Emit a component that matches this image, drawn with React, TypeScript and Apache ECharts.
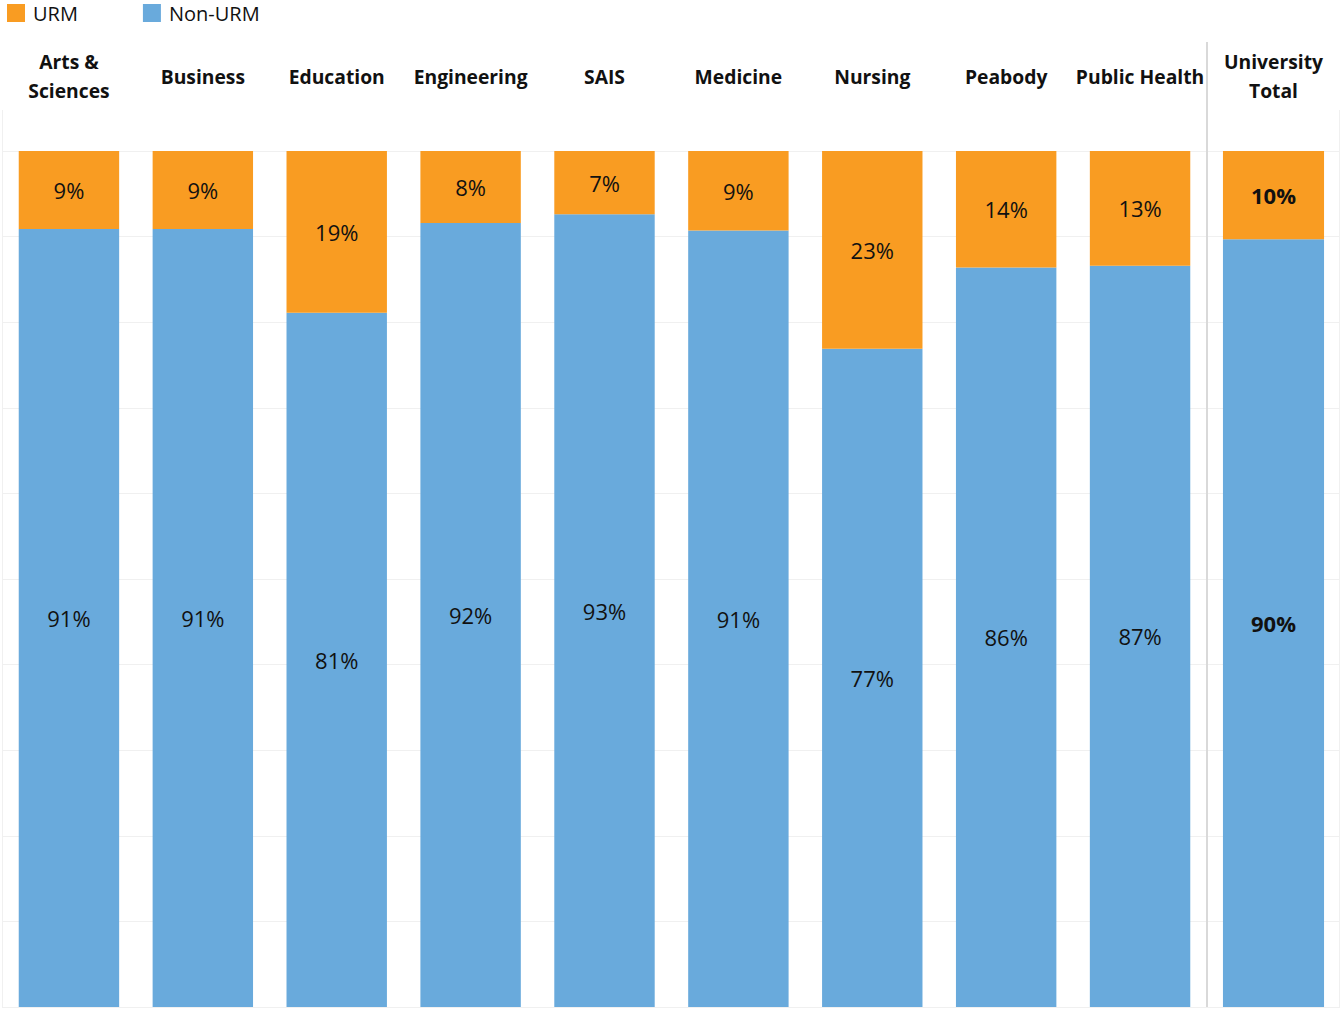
import React, { useEffect, useRef } from "react";
import * as echarts from "echarts";

const schools = ["Arts &\nSciences", "Business", "Education", "Engineering", "SAIS", "Medicine", "Nursing", "Peabody", "Public Health"];
const urm = [9.1, 9.1, 18.9, 8.4, 7.4, 9.3, 23.1, 13.6, 13.4];
const nonUrm = [90.9, 90.9, 81.1, 91.6, 92.6, 90.7, 76.9, 86.4, 86.6];

const totalCategory = ["University\nTotal"];
const totalUrm = [10.3];
const totalNonUrm = [89.7];

const ORANGE = "#f99c22";
const BLUE = "#69aadc";
const FONT = "Open Sans";

export default function App() {
  const ref = useRef<HTMLDivElement>(null);
  useEffect(() => {
    if (!ref.current) return;
    const chart = echarts.init(ref.current, null, { renderer: "svg" });
    const pct = (p: any) => Math.round(p.value) + "%";
    const xAxisBase = {
      type: "category",
      position: "top",
      axisLine: { show: false },
      axisTick: { show: false },
      axisLabel: {
        color: "#111",
        fontFamily: FONT,
        fontWeight: "bold",
        fontSize: 19.3,
        lineHeight: 29,
        verticalAlign: "middle",
        margin: 75,
        interval: 0,
      },
    };
    const yAxisBase = {
      type: "value",
      min: 0,
      max: 100,
      interval: 10,
      axisLabel: { show: false },
      axisLine: { show: false },
      axisTick: { show: false },
      splitLine: { show: true, lineStyle: { color: "#f0f0f0", width: 1 } },
    };
    const labelBase = (bold: boolean) => ({
      show: true,
      position: "inside",
      formatter: pct,
      color: "#111",
      fontFamily: FONT,
      fontSize: 22,
      fontWeight: bold ? "bold" : "normal",
    });
    chart.setOption({
      animation: false,
      backgroundColor: "#fff",
      legend: {
        left: 2,
        top: -2,
        itemWidth: 18,
        itemHeight: 18,
        itemGap: 65,
        icon: "rect",
        data: ["URM", "Non-URM"],
        textStyle: { fontFamily: FONT, fontSize: 20, color: "#111", padding: [0, 0, 0, 3] },
        selectedMode: false,
      },
      grid: [
        { left: 2, top: 151, width: 1205, bottom: 2 },
        { left: 1207, top: 151, width: 133, bottom: 2 },
      ],
      xAxis: [
        { ...xAxisBase, gridIndex: 0, data: schools },
        { ...xAxisBase, gridIndex: 1, data: totalCategory },
      ],
      yAxis: [
        { ...yAxisBase, gridIndex: 0 },
        { ...yAxisBase, gridIndex: 1 },
      ],
      series: [
        {
          name: "Non-URM", type: "bar", stack: "a", xAxisIndex: 0, yAxisIndex: 0,
          data: nonUrm, barWidth: "75%", itemStyle: { color: BLUE }, label: labelBase(false),
        },
        {
          name: "URM", type: "bar", stack: "a", xAxisIndex: 0, yAxisIndex: 0,
          data: urm, barWidth: "75%", itemStyle: { color: ORANGE }, label: labelBase(false),
        },
        {
          name: "Non-URM", type: "bar", stack: "b", xAxisIndex: 1, yAxisIndex: 1,
          data: totalNonUrm, barWidth: "76%", itemStyle: { color: BLUE }, label: labelBase(true),
        },
        {
          name: "URM", type: "bar", stack: "b", xAxisIndex: 1, yAxisIndex: 1,
          data: totalUrm, barWidth: "76%", itemStyle: { color: ORANGE }, label: labelBase(true),
        },
      ],
      graphic: [
        { type: "line", shape: { x1: 1207, y1: 42, x2: 1207, y2: 1007 }, style: { stroke: "#d9d9d9", lineWidth: 2 }, z: 10 },
        { type: "line", shape: { x1: 2.5, y1: 110, x2: 2.5, y2: 1007 }, style: { stroke: "#f0f0f0", lineWidth: 1 }, z: 10 },
        { type: "line", shape: { x1: 1339.5, y1: 110, x2: 1339.5, y2: 1007 }, style: { stroke: "#f0f0f0", lineWidth: 1 }, z: 10 },
      ],
    });
    return () => chart.dispose();
  }, []);
  return (
    <div
      ref={ref}
      style={{ position: "absolute", left: 0, top: 0, width: 1340, height: 1009 }}
    />
  );
}
